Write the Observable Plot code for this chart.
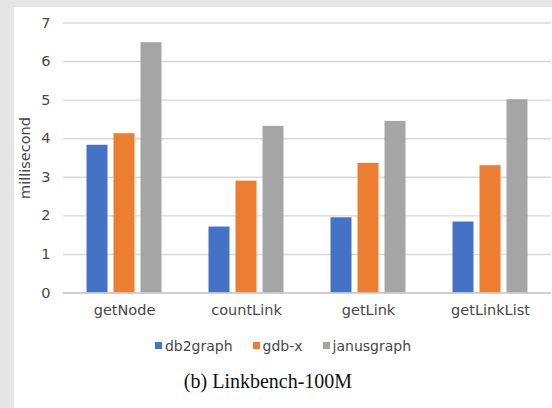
<!DOCTYPE html>
<html>
<head>
<meta charset="utf-8">
<script src="https://cdn.jsdelivr.net/npm/d3@7"></script>
<script src="https://cdn.jsdelivr.net/npm/@observablehq/plot@0.6"></script>
<style>
  html, body { margin: 0; padding: 0; }
  body { width: 552px; height: 408px; overflow: hidden; background: #e6e6e6; position: relative; font-family: "DejaVu Sans", sans-serif; }
  #panel { position: absolute; left: 14px; top: 7px; width: 538px; height: 401px; background: #ffffff; }
  #chart { position: absolute; left: 0; top: 0; }
  #legend { position: absolute; left: 14px; top: 329px; width: 538px; display: flex; justify-content: center; }
  .lg-swatch { margin-right: 20px !important; font-size: 14px; color: #484848; }
  .lg-swatch:last-child { margin-right: 0 !important; }
  .lg-swatch > svg { margin-right: 3px !important; }
  #caption { position: absolute; left: 14px; width: 508px; top: 371px; text-align: center; font-family: "Liberation Serif", serif; font-size: 20px; line-height: 1; color: #111; }
</style>
</head>
<body>
<div id="panel"></div>
<div id="chart"></div>
<div id="legend"></div>
<div id="caption">(b) Linkbench-100M</div>
<script>
const categories = ["getNode", "countLink", "getLink", "getLinkList"];
const series = ["db2graph", "gdb-x", "janusgraph"];
const db2graph = [3.83, 1.71, 1.95, 1.84];
const gdbx = [4.13, 2.90, 3.36, 3.30];
const janusgraph = [6.49, 4.32, 4.45, 5.01];
const yTicks = [0, 1, 2, 3, 4, 5, 6, 7];
const colors = ["#4472C4", "#ED7D31", "#A5A5A5"];

const valuesBySeries = [db2graph, gdbx, janusgraph];
const data = [];
categories.forEach((c, i) => {
  series.forEach((s, j) => data.push({category: c, series: s, value: valuesBySeries[j][i]}));
});

const plot = Plot.plot({
  width: 552,
  height: 325,
  marginLeft: 61.5,
  marginRight: 0,
  marginTop: 22.5,
  marginBottom: 32.5,
  style: {fontFamily: "DejaVu Sans", fontSize: "14.5px", color: "#484848", background: "transparent"},
  fx: {domain: categories, padding: 0, label: null},
  x: {domain: series, axis: null, paddingInner: 0.21, paddingOuter: 0.845},
  y: {domain: [0, 7], ticks: yTicks},
  color: {domain: series, range: colors},
  marks: [
    Plot.gridY(yTicks, {stroke: "#d9d9d9", strokeOpacity: 1, strokeWidth: 1.4}),
    Plot.barY(data, {fx: "category", x: "series", y: "value", fill: "series"}),
    Plot.ruleY([0], {stroke: "#c8c8c8", strokeWidth: 1.4}),
    Plot.axisY(yTicks, {tickSize: 0, tickPadding: 13, label: "millisecond", labelAnchor: "center", labelArrow: "none", labelOffset: 44, fontSize: 14.5}),
    Plot.axisFx({anchor: "bottom", tickSize: 0, tickPadding: 12, label: null, fontSize: 14.5})
  ]
});
document.getElementById("chart").appendChild(plot);

const legend = Plot.legend({
  color: {domain: series, range: colors},
  swatchSize: 7,
  className: "lg",
  style: {fontFamily: "DejaVu Sans", fontSize: "14px", color: "#484848", margin: 0}
});
document.getElementById("legend").appendChild(legend);
</script>
</body>
</html>
